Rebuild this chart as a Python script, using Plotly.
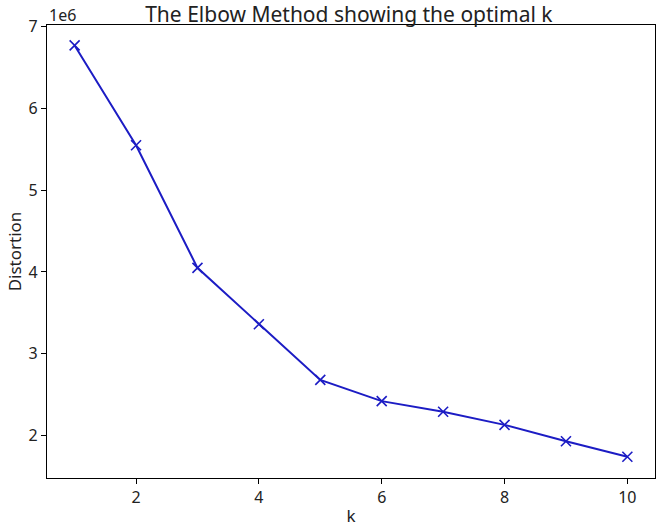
import plotly.graph_objects as go

k = [1, 2, 3, 4, 5, 6, 7, 8, 9, 10]
distortion = [6.77e6, 5.55e6, 4.05e6, 3.36e6, 2.68e6, 2.42e6, 2.29e6, 2.13e6, 1.93e6, 1.74e6]
y_ticks = [2e6, 3e6, 4e6, 5e6, 6e6, 7e6]
y_labels = ['2', '3', '4', '5', '6', '7']

fig = go.Figure(go.Scatter(
    x=k, y=distortion, mode='lines+markers',
    line=dict(color='#1c1cc4', width=2),
    marker=dict(symbol='x-thin', size=10, line=dict(color='#1c1cc4', width=1.6)),
))

axis = dict(showline=True, linecolor='black', linewidth=1.2, mirror=True, automargin=False,
            ticks='outside', ticklen=5, tickcolor='black', showgrid=False, zeroline=False,
            tickfont=dict(size=16, color='#222'))

fig.update_layout(
    width=657, height=527,
    margin=dict(l=47, r=2, t=25, b=49),
    plot_bgcolor='white', paper_bgcolor='white',
    font=dict(family='Noto Sans', color='#222'),
    showlegend=False,
    title=dict(text='The Elbow Method showing the optimal k', x=0.531, xanchor='center',
               y=1, yanchor='bottom', yref='paper', pad=dict(b=3),
               font=dict(size=21)),
    xaxis=dict(axis, range=[0.55, 10.45], tickvals=[2, 4, 6, 8, 10],
               title=dict(text='k', font=dict(size=17), standoff=6)),
    yaxis=dict(axis, range=[1.48e6, 7.02e6], tickvals=y_ticks, ticktext=y_labels,
               title=dict(text='Distortion', font=dict(size=17), standoff=2)),
    annotations=[dict(text='1e6', xref='paper', yref='paper', x=0, y=1, xanchor='left',
                      yanchor='bottom', showarrow=False, font=dict(size=16), yshift=-3)],
)

# page margin off so the figure sits at the window corner
fig.write_html("out.html", config={'displayModeBar': False},
               post_script="document.body.style.margin='0';document.body.style.overflow='hidden';")
